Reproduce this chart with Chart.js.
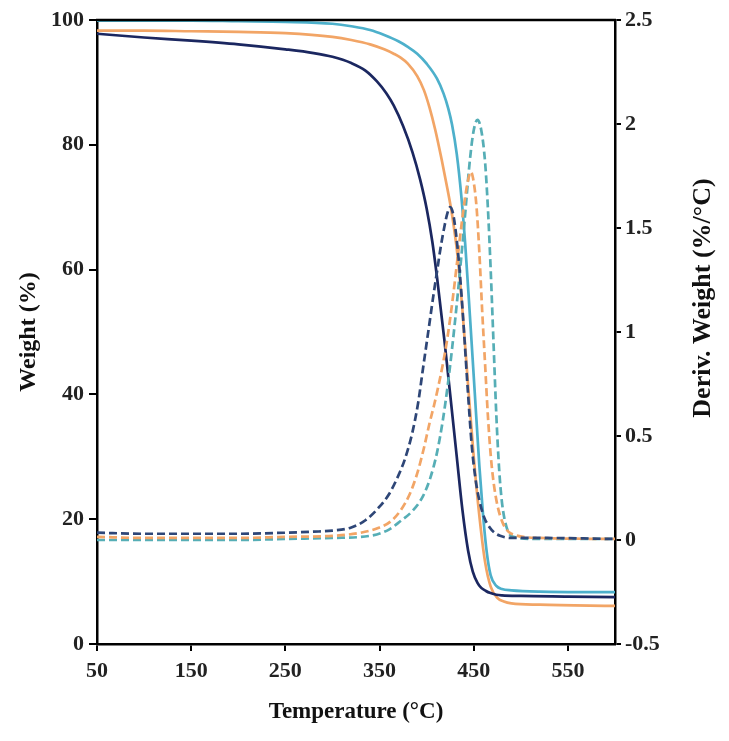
<!DOCTYPE html>
<html><head><meta charset="utf-8">
<script src="https://cdn.jsdelivr.net/npm/chart.js@4.4.1/dist/chart.umd.min.js"></script>
<style>html,body{margin:0;padding:0;background:#fff}#wrap{width:729px;height:741px;position:relative}</style>
</head><body><div id="wrap"><canvas id="c"></canvas></div>
<script>
const xTickValues = [50,150,250,350,450,550];
const xTitle = 'Temperature (°C)';
const yLeftTitle = 'Weight (%)';
const yRightTitle = 'Deriv. Weight (%/°C)';

// Weight curves (left axis)
const navyWT = [50,100,150,200,250,280,300,320,335,347,357,365,375,385,393,400,406,411,419,425,432,438,444,449,454,458,463,467,474,480,500,550,600];
const navyW  = [97.8,97.2,96.7,96.1,95.3,94.7,94.1,93.1,91.9,90.2,88.3,86.3,83.0,78.8,74.5,69.8,64.5,58.8,48.5,40,30,21.5,15,11.6,9.8,9,8.5,8.2,7.9,7.8,7.7,7.6,7.5];
const orangeWT = [50,100,150,200,250,300,320,340,355,365,372,380,390,397,403,409,416,422,427,433,438,444,450,456,462,468,475,482,490,520,600];
const orangeW  = [98.3,98.3,98.2,98.1,97.9,97.3,96.8,96.1,95.3,94.6,94.0,93.0,91.0,88.8,86.0,82.5,77.6,73.0,68.8,62,53.5,41.5,30,20.5,13.2,9.2,7.4,6.8,6.5,6.3,6.1];
const tealWT = [50,100,150,200,250,300,320,340,355,370,380,390,400,411,418,423,427,432,437,441,446,451,456,460,464,468,474,480,490,520,600];
const tealW  = [99.9,99.9,99.9,99.8,99.7,99.4,99.0,98.4,97.6,96.6,95.7,94.6,93.0,90.6,88.2,85.8,83.2,78.5,71.5,64,52.5,40.5,28.5,20.5,14.5,11,9.3,8.8,8.6,8.4,8.3];

// Derivative weight curves (right axis)
const navyDT = [50,100,150,200,250,280,300,320,335,350,360,368,377,385,391,396,402,407,411,415,419,422,425,428,431,434,437,440,444,448,452,456,461,467,472,478,490,520,600];
const navyD  = [0.035,0.03,0.03,0.03,0.035,0.04,0.045,0.06,0.095,0.16,0.22,0.29,0.39,0.52,0.66,0.82,1.01,1.17,1.29,1.41,1.51,1.57,1.6,1.57,1.48,1.35,1.18,0.98,0.7,0.45,0.29,0.19,0.11,0.06,0.035,0.02,0.01,0.01,0.005];
const orangeDT = [50,100,150,200,250,300,330,350,362,372,382,390,397,403,408,412,417,422,428,434,440,444,447,450,453,456,459,462,465,468,471,475,481,490,520,600];
const orangeD  = [0.015,0.01,0.01,0.01,0.015,0.02,0.035,0.06,0.09,0.14,0.22,0.32,0.44,0.56,0.65,0.73,0.84,0.97,1.17,1.4,1.62,1.73,1.77,1.72,1.6,1.38,1.1,0.85,0.6,0.41,0.28,0.17,0.08,0.03,0.01,0.005];
const tealDT = [50,100,150,200,250,300,340,360,372,385,396,404,411,417,422,427,433,440,446,450,454,458,462,465,468,471,474,477,480,485,492,520,600];
const tealD  = [0,0,0,0,0.005,0.01,0.02,0.05,0.09,0.14,0.21,0.3,0.42,0.57,0.73,0.92,1.18,1.52,1.83,1.97,2.02,1.97,1.82,1.6,1.3,0.95,0.6,0.34,0.18,0.06,0.015,0.005,0.005];

const NAVY='#1B2760', NAVY_D='#2E4677', ORANGE='#F2A566', TEAL='#4DB0CB', TEAL_D='#56AEB6';
const FONT='"Liberation Serif", "Times New Roman", serif';
const pts=(xs,ys)=>xs.map((x,i)=>({x:x,y:ys[i]}));
const solid=(label,xs,ys,c)=>({label,data:pts(xs,ys),borderColor:c,borderWidth:2.7,pointRadius:0,yAxisID:'y',cubicInterpolationMode:'monotone',fill:false});
const dashed=(label,xs,ys,c)=>({label,data:pts(xs,ys),borderColor:c,borderWidth:2.7,borderDash:[8,4],pointRadius:0,yAxisID:'yR',cubicInterpolationMode:'monotone',fill:false});

const frame={id:'frame',afterDraw(chart){
  const {ctx,chartArea:a}=chart;
  ctx.save();
  ctx.strokeStyle='#000';ctx.lineWidth=2.5;
  ctx.beginPath();ctx.moveTo(a.left-1,a.top);ctx.lineTo(a.right+1,a.top);ctx.stroke();
  ctx.translate(chart.width-26,(a.top+a.bottom)/2-34);
  ctx.rotate(-Math.PI/2);
  ctx.font='bold 26px '+FONT;ctx.fillStyle='#111';ctx.textAlign='center';ctx.textBaseline='middle';
  ctx.fillText(yRightTitle,0,0);
  ctx.restore();
}};

new Chart(document.getElementById('c'),{
  type:'line',
  data:{datasets:[
    dashed('Navy DTG',navyDT,navyD,NAVY_D),
    dashed('Orange DTG',orangeDT,orangeD,ORANGE),
    dashed('Teal DTG',tealDT,tealD,TEAL_D),
    solid('Navy TGA',navyWT,navyW,NAVY),
    solid('Orange TGA',orangeWT,orangeW,ORANGE),
    solid('Teal TGA',tealWT,tealW,TEAL)
  ]},
  options:{
    responsive:true,maintainAspectRatio:false,animation:false,
    layout:{padding:{top:20,left:0,right:0,bottom:0}},
    plugins:{legend:{display:false},tooltip:{enabled:false}},
    scales:{
      x:{type:'linear',position:'bottom',min:50,max:600,
        afterBuildTicks:s=>{s.ticks=xTickValues.map(v=>({value:v}));},
        afterFit:s=>{s.height=97;},
        grid:{drawOnChartArea:false,drawTicks:true,tickLength:7,color:'#000',lineWidth:2},
        border:{display:true,color:'#000',width:2.5},
        ticks:{color:'#222',font:{family:FONT,size:22,weight:'bold'},padding:7,maxRotation:0,autoSkip:false},
        title:{display:true,text:xTitle,color:'#111',font:{family:FONT,size:23,weight:'bold'},padding:{top:0,bottom:15}}
      },
      y:{type:'linear',position:'left',min:0,max:100,
        ticks:{stepSize:20,color:'#222',font:{family:FONT,size:22,weight:'bold'},padding:5},
        afterFit:s=>{s.width=97;},
        grid:{drawOnChartArea:false,drawTicks:true,tickLength:8,color:'#000',lineWidth:2},
        border:{display:true,color:'#000',width:2.5},
        title:{display:true,text:yLeftTitle,color:'#111',font:{family:FONT,size:24,weight:'bold'},padding:{top:14,bottom:0}}
      },
      yR:{type:'linear',position:'right',min:-0.5,max:2.5,
        ticks:{stepSize:0.5,color:'#222',font:{family:FONT,size:22,weight:'bold'},padding:4,callback:v=>String(Number(v.toFixed(2)))},
        afterFit:s=>{s.width=114;},
        grid:{drawOnChartArea:false,drawTicks:true,tickLength:6,color:'#000',lineWidth:2},
        border:{display:true,color:'#000',width:2.5}
      }
    }
  },
  plugins:[frame]
});
</script></body></html>
